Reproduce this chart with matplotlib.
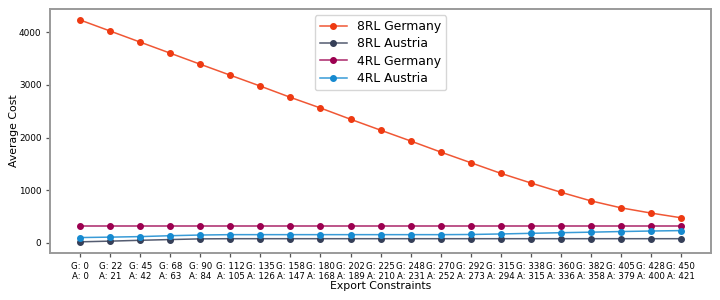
import matplotlib
matplotlib.use('Agg')
import numpy as np
import matplotlib.pyplot as plt
from matplotlib.colors import to_rgba

g_limits = [0, 22, 45, 68, 90, 112, 135, 158, 180, 202, 225, 248, 270, 292, 315, 338, 360, 382, 405, 428, 450]
a_limits = [0, 21, 42, 63, 84, 105, 126, 147, 168, 189, 210, 231, 252, 273, 294, 315, 336, 358, 379, 400, 421]

rl8_germany = [4230, 4020, 3810, 3600, 3390, 3182, 2975, 2762, 2560, 2347, 2140, 1935, 1725, 1523, 1321, 1138, 962, 798, 666, 566, 477]
rl8_austria = [19, 32, 48, 62, 75, 78, 78, 78, 78, 78, 78, 78, 78, 78, 78, 78, 78, 78, 78, 78, 78]
rl4_germany = [315, 315, 315, 315, 315, 315, 315, 315, 315, 315, 315, 315, 315, 315, 315, 315, 315, 315, 315, 315, 315]
rl4_austria = [100, 108, 118, 135, 148, 155, 155, 155, 155, 155, 155, 155, 155, 158, 168, 180, 192, 202, 214, 224, 232]

series = [
    ('8RL Germany', rl8_germany, '#ee3a12'),
    ('8RL Austria', rl8_austria, '#363f58'),
    ('4RL Germany', rl4_germany, '#9c0050'),
    ('4RL Austria', rl4_austria, '#168ad0'),
]

tick_labels = [f'G: {g}\nA: {a}' for g, a in zip(g_limits, a_limits)]
x = np.arange(len(g_limits))

fig, ax = plt.subplots(figsize=(7.2, 3.0), dpi=100)
for label, values, color in series:
    ax.plot(x, values, color=to_rgba(color, 0.85), linewidth=1.1, marker='o', markersize=4,
            markerfacecolor=color, markeredgecolor=color, label=label)

ax.set_xticks(x)
ax.set_xticklabels(tick_labels, fontsize=6.2, linespacing=1.15)
ax.tick_params(axis='y', labelsize=6.4)
ax.tick_params(colors='#555555', labelcolor='black', length=3, width=0.9)
ax.set_xlabel('Export Constraints', fontsize=7.8, labelpad=0)
ax.set_ylabel('Average Cost', fontsize=7.8)
ax.yaxis.set_label_coords(-0.047, 0.5)
for spine in ax.spines.values():
    spine.set_color('#9a9a9a')
    spine.set_linewidth(1.4)
ax.legend(loc='upper center', fontsize=8.9, handlelength=2.2, borderpad=0.4, labelspacing=0.35)

fig.subplots_adjust(left=0.07, right=0.987, top=0.97, bottom=0.157)
fig.savefig('out.png', dpi=100)
plt.close(fig)
